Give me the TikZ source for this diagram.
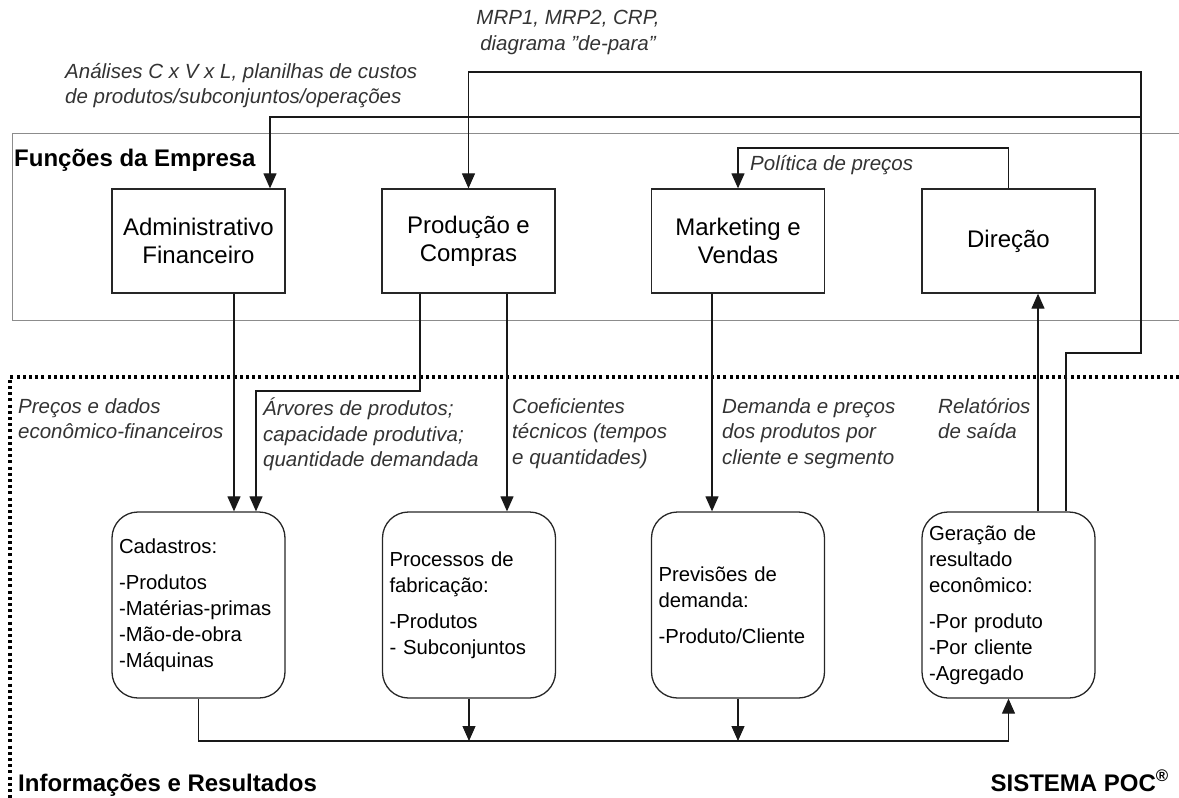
\documentclass[tikz,border=0pt]{standalone}
\usepackage{fontspec}
\setmainfont{Liberation Sans}
\usetikzlibrary{arrows.meta}
\begin{document}
\begin{tikzpicture}[x=1pt,y=-1pt,
 fbox/.style={draw=black!85, line width=1.3pt, minimum width=173pt, minimum height=104pt, inner sep=0pt, align=center, font=\fontsize{24}{28}\selectfont},
 rbox/.style={draw=black!85, line width=1.3pt, rounded corners=26pt, minimum width=173pt, minimum height=186pt, inner xsep=7pt, inner ysep=0pt, text width=159pt, align=left, font=\fontsize{20.3}{26}\selectfont},
 lbl/.style={inner sep=0pt, align=left, anchor=north west, text=black!80, font=\fontsize{20.5}{25.5}\selectfont\itshape},
 con/.style={line width=1.2pt, draw=black!90},
 arr/.style={con, -{Triangle[length=15pt,width=13pt]}},
 ttl/.style={inner sep=0pt, font=\fontsize{24}{28}\selectfont\bfseries},
 frameline/.style={draw=black!45, line width=0.8pt},
 dotline/.style={line width=3.2pt, dash pattern=on 3pt off 3.2pt}
]
\useasboundingbox (0,0) rectangle (1179,798);
% frames
\draw[frameline] (1179,133) -- (12,133) -- (12,320) -- (1179,320);
\draw[dotline] (1179,377) -- (10,377) -- (10,798);

% top boxes
\node[fbox] (adm) at (198.5,241) {Administrativo\\Financeiro};
\node[fbox] (prod) at (468.5,241) {Produção e\\Compras};
\node[fbox] (mkt) at (738,241) {Marketing e\\Vendas};
\node[fbox] (dir) at (1008.5,241) {Direção};

% bottom rounded boxes
\node[rbox] (cad) at (198.5,605) {Cadastros:\\[10pt]-Produtos\\-Matérias-primas\\-Mão-de-obra\\-Máquinas};
\node[rbox] (proc) at (469,605) {Processos de\\fabricação:\\[10pt]-Produtos\\- Subconjuntos};
\node[rbox] (prev) at (738,605) {Previsões de\\demanda:\\[10pt]-Produto/Cliente};
\node[rbox] (ger) at (1008.5,605) {Geração de\\resultado\\econômico:\\[10pt]-Por produto\\-Por cliente\\-Agregado};

% coordinates
\coordinate (ra) at (1141,72);
\coordinate (rb) at (1141,353);
\coordinate (rc) at (1141,117);
\coordinate (pol) at (0,148);
\coordinate (bend) at (0,391);
\coordinate (bus) at (0,741);

% connectors
\draw[arr] ([xshift=57.5pt]ger.north) |- (rb) -- (ra) -| (prod.north);
\draw[arr] (rc) -| ([xshift=71.5pt]adm.north);
\draw[arr] (dir.north) -- (dir.north |- pol) -| (mkt.north);
\draw[arr] ([xshift=35.5pt]adm.south) -- ([xshift=35.5pt]cad.north);
\draw[arr] ([xshift=-48.5pt]prod.south) |- ([xshift=57.5pt]cad.north |- bend) -- ([xshift=57.5pt]cad.north);
\draw[arr] ([xshift=38.5pt]prod.south) -- ([xshift=38pt]proc.north);
\draw[arr] ([xshift=-26pt]mkt.south) -- ([xshift=-26pt]prev.north);
\draw[arr] ([xshift=29.5pt]ger.north) -- ([xshift=29.5pt]dir.south);
\draw[arr] (cad.south) -- (cad.south |- bus) -| (ger.south);
\draw[arr] (proc.south) -- (proc.south |- bus);
\draw[arr] (prev.south) -- (prev.south |- bus);

% labels
\node[lbl, anchor=north, align=center] (mrp) at (568,10) {MRP1, MRP2, CRP,\\diagrama \symbol{34}de-para\symbol{34}};
\node[lbl] (ana) at (65,63) {Análises C x V x L, planilhas de custos\\de produtos/subconjuntos/operações};
\node[lbl] (polt) at (750,155) {Política de preços};
\node[lbl] (pre) at (18,398) {Preços e dados\\econômico-financeiros};
\node[lbl] (arv) at (263,398) {Árvores de produtos;\\capacidade produtiva;\\quantidade demandada};
\node[lbl] (coe) at (512,398) {Coeficientes\\técnicos (tempos\\e quantidades)};
\node[lbl] (dem) at (722,398) {Demanda e preços\\dos produtos por\\cliente e segmento};
\node[lbl] (rel) at (938,398) {Relatórios\\de saída};

% titles
\node[ttl, anchor=base west] (fe) at (14,166) {Funções da Empresa};
\node[ttl, anchor=base west] (ir) at (18,791) {Informações e Resultados};
\node[ttl, anchor=base east] (poc) at (1169,791) {SISTEMA POC\textsuperscript{®}};
\end{tikzpicture}
\end{document}
